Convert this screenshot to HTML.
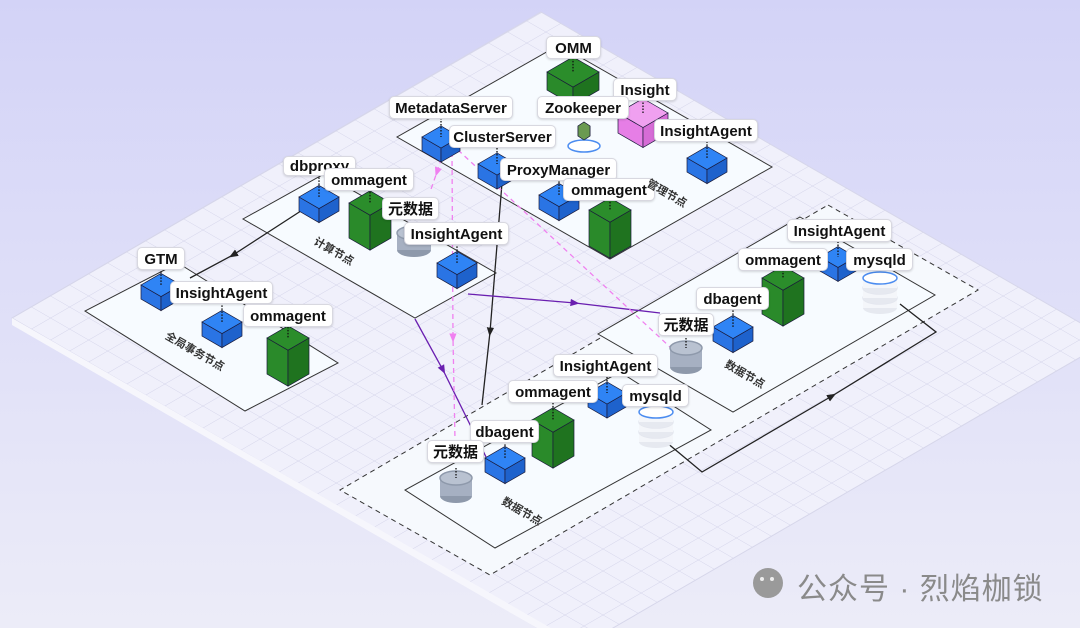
<!DOCTYPE html>
<html><head><meta charset="utf-8">
<style>
html,body{margin:0;padding:0}
body{width:1080px;height:628px;position:relative;overflow:hidden;background:linear-gradient(180deg,#d3d3f7 0%,#e2e2f8 60%,#ececf8 100%);font-family:"Liberation Sans","Noto Sans CJK SC",sans-serif}
svg{position:absolute;left:0;top:0}
.l{position:absolute;background:#fff;border:1px solid #d8d8e0;border-radius:5px;box-shadow:0 1px 2px rgba(0,0,0,.15);font-weight:bold;font-size:15px;color:#111;text-align:center;line-height:23px;height:23px;box-sizing:border-box;white-space:nowrap}
.p{position:absolute;font-size:11px;font-weight:bold;color:#333;transform:rotate(30deg);white-space:nowrap}
.wm{position:absolute;left:797px;top:564px;font-size:30px;letter-spacing:1px;color:#8a8a8a;white-space:nowrap}
</style></head><body>
<svg id="s" width="1080" height="628" xmlns="http://www.w3.org/2000/svg">
<defs>
<pattern id="g" width="22" height="22" patternUnits="userSpaceOnUse" patternTransform="matrix(0.866,0.5,0.866,-0.5,12,318)">
<path d="M0 0H22M0 0V22" stroke="#d4d4ea" stroke-width="1.1" fill="none"/>
</pattern>
<marker id="ab" viewBox="0 0 10 10" refX="5" refY="5" markerWidth="7" markerHeight="7" orient="auto"><path d="M0 1L10 5L0 9z" fill="#222"/></marker>
<marker id="ap" viewBox="0 0 10 10" refX="5" refY="5" markerWidth="7" markerHeight="7" orient="auto"><path d="M0 1L10 5L0 9z" fill="#6a1fb0"/></marker>
<marker id="ak" viewBox="0 0 10 10" refX="5" refY="5" markerWidth="7" markerHeight="7" orient="auto"><path d="M0 1L10 5L0 9z" fill="#f080f0"/></marker>
</defs>
<polygon points="541,12 1110,340 575,650 12,318" fill="#f0f0fb" stroke="#d6d6ea"/>
<polygon points="541,12 1110,340 575,650 12,318" fill="url(#g)"/>
<polygon points="12,318 575,642 575,650 12,325" fill="#f6f6fc"/>
<!-- platforms -->
<polygon points="559,45 772,167 610,259 397,137" fill="#f7fbff" stroke="#333"/>
<polygon points="324,174 496,273 415,318 243,219" fill="#f7fbff" stroke="#333"/>
<polygon points="178,263 338,363 245,411 85,311" fill="#f7fbff" stroke="#333"/>
<polygon points="828,205 978,290 490,575 340,490" fill="#f6f9fd" stroke="#333" stroke-dasharray="5,4"/>
<polygon points="800,217 935,295 733,412 598,334" fill="#f7fbff" stroke="#333"/>
<polygon points="620,372 711,430 495,548 405,490" fill="#f7fbff" stroke="#333"/>
<!-- connectors -->
<g fill="none" stroke-width="1.3">
<path d="M307,207 L233,255 L190,278" stroke="#222" marker-mid="url(#ab)"/>
<path d="M502,183 L490,332 L482,405" stroke="#222" marker-mid="url(#ab)"/>
<path d="M415,319 L443,370 L490,465" stroke="#6a1fb0" marker-mid="url(#ap)"/>
<path d="M468,294 L575,303 L660,313" stroke="#6a1fb0" marker-mid="url(#ap)"/>
<path d="M666,442 L702,472 L832,396" stroke="#222" marker-end="url(#ab)"/>
<path d="M832,396 L936,332 L900,304" stroke="#222"/>
<g stroke="#f080f0" stroke-dasharray="5,4">
<path d="M444,150 L437,172 L430,192" marker-mid="url(#ak)"/>
<path d="M452,152 L453,338 L455,440" marker-mid="url(#ak)"/>
<path d="M458,150 L670,347"/>
</g>
</g>
<g id="shp"></g>
<circle cx="768" cy="583" r="15" fill="#9a9a9a"/>
<circle cx="762" cy="579" r="2" fill="#eee"/><circle cx="772" cy="579" r="2" fill="#eee"/>
</svg>
<script>
var g=document.getElementById('shp'),N='http://www.w3.org/2000/svg';
function P(pts,f){var e=document.createElementNS(N,'polygon');e.setAttribute('points',pts.map(function(p){return p.join(',')}).join(' '));e.setAttribute('fill',f);e.setAttribute('stroke','#1a1a3a');e.setAttribute('stroke-width','0.7');g.appendChild(e);}
function D(x,y1,y2){var e=document.createElementNS(N,'line');e.setAttribute('x1',x);e.setAttribute('x2',x);e.setAttribute('y1',y1);e.setAttribute('y2',y2);e.setAttribute('stroke','#111');e.setAttribute('stroke-dasharray','1.5,1.5');e.setAttribute('stroke-width','1.3');g.appendChild(e);}
function cube(cx,cy,w,h,c){var t=w*0.29,hw=w/2;
P([[cx-hw,cy],[cx,cy+t],[cx,cy+t+h],[cx-hw,cy+h]],c[1]);
P([[cx+hw,cy],[cx,cy+t],[cx,cy+t+h],[cx+hw,cy+h]],c[2]);
P([[cx,cy-t],[cx+hw,cy],[cx,cy+t],[cx-hw,cy]],c[0]);D(cx,cy-t-8,cy);}
var B=['#2f84f5','#2a74e4','#1e62cc'],G=['#2b8d2b','#2a8a2a','#1f731f'],K=['#f0a0f0','#e67ee6','#d66cd6'];
function E(cx,cy,rx,ry,f,s){var e=document.createElementNS(N,'ellipse');e.setAttribute('cx',cx);e.setAttribute('cy',cy);e.setAttribute('rx',rx);e.setAttribute('ry',ry);e.setAttribute('fill',f);if(s){e.setAttribute('stroke',s);e.setAttribute('stroke-width','1.5');}g.appendChild(e);}
function R(x,y,w,h,f){var e=document.createElementNS(N,'rect');e.setAttribute('x',x);e.setAttribute('y',y);e.setAttribute('width',w);e.setAttribute('height',h);e.setAttribute('fill',f);g.appendChild(e);}
function cyl(cx,ty,by,rx){E(cx,by,rx,7,'#8e99ab');R(cx-rx,ty,2*rx,by-ty,'#a6b0c2');E(cx,ty,rx,7,'#b9c2d1','#8e99ab');D(cx,ty-10,ty);}
function db(cx,ty,by,rx){var n=3,hh=(by-ty)/n;for(var i=n-1;i>=0;i--){var y=ty+i*hh;E(cx,y+hh,rx,6,'#e6e9f0');R(cx-rx,y,2*rx,hh,'#f4f6fa');E(cx,y,rx,6,'#fff',i==0?'#4b8cf0':'#e3e6ee');}
}
cube(573,72,52,18,G);cube(643,113,50,20,K);
P([[578,126],[584,122],[590,126],[590,136],[584,140],[578,136]],'#6a9a50');E(584,146,16,6,'#fff','#4b8cf0');P([[578,126],[584,122],[590,126],[590,136],[584,140],[578,136]],'#6a9a50');
cube(441,137,38,14,B);cube(497,164,38,14,B);cube(707,158,40,14,B);cube(559,195,40,14,B);cube(610,210,42,36,G);
cube(319,197,40,14,B);cube(370,203,42,35,G);cyl(414,233,250,17);cube(457,263,40,14,B);
cube(161,285,40,14,B);cube(222,322,40,14,B);cube(288,338,42,36,G);
cube(838,257,36,14,B);cube(783,278,42,36,G);db(880,278,308,17);cube(733,327,40,14,B);cyl(686,348,367,16);
cube(607,393,38,14,B);cube(553,420,42,36,G);db(656,412,442,17);cube(505,458,40,14,B);cyl(456,478,496,16);
</script>
<div class="l" style="left:546px;top:36px;width:55px">OMM</div>
<div class="l" style="left:613px;top:78px;width:64px">Insight</div>
<div class="l" style="left:537px;top:96px;width:92px">Zookeeper</div>
<div class="l" style="left:389px;top:96px;width:124px">MetadataServer</div>
<div class="l" style="left:449px;top:125px;width:107px">ClusterServer</div>
<div class="l" style="left:654px;top:119px;width:104px">InsightAgent</div>
<div class="l" style="left:500px;top:158px;width:117px">ProxyManager</div>
<div class="l" style="left:563px;top:178px;width:92px">ommagent</div>
<div class="l" style="left:283px;top:156px;width:73px;height:20px;line-height:20px;overflow:hidden">dbproxy</div>
<div class="l" style="left:324px;top:168px;width:90px">ommagent</div>
<div class="l" style="left:382px;top:197px;width:57px">元数据</div>
<div class="l" style="left:404px;top:222px;width:105px">InsightAgent</div>
<div class="l" style="left:137px;top:247px;width:48px">GTM</div>
<div class="l" style="left:170px;top:281px;width:103px">InsightAgent</div>
<div class="l" style="left:243px;top:304px;width:90px">ommagent</div>
<div class="l" style="left:787px;top:219px;width:105px">InsightAgent</div>
<div class="l" style="left:738px;top:248px;width:90px">ommagent</div>
<div class="l" style="left:846px;top:248px;width:67px">mysqld</div>
<div class="l" style="left:696px;top:287px;width:73px">dbagent</div>
<div class="l" style="left:658px;top:313px;width:56px">元数据</div>
<div class="l" style="left:553px;top:354px;width:105px">InsightAgent</div>
<div class="l" style="left:508px;top:380px;width:90px">ommagent</div>
<div class="l" style="left:622px;top:384px;width:67px">mysqld</div>
<div class="l" style="left:470px;top:420px;width:69px">dbagent</div>
<div class="l" style="left:427px;top:440px;width:57px">元数据</div>
<div class="p" style="left:645px;top:185px">管理节点</div>
<div class="p" style="left:312px;top:243px">计算节点</div>
<div class="p" style="left:162px;top:343px">全局事务节点</div>
<div class="p" style="left:500px;top:503px">数据节点</div>
<div class="p" style="left:723px;top:366px">数据节点</div>
<div class="wm">公众号 · 烈焰枷锁</div>
</body></html>
